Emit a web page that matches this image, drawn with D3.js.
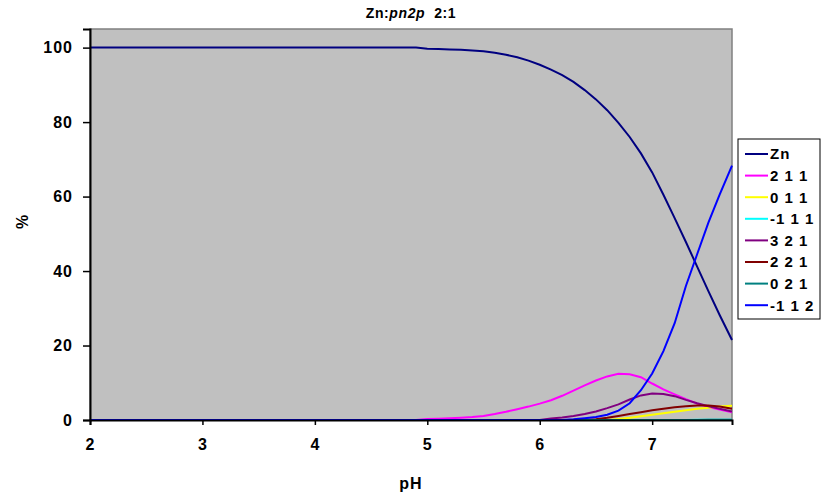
<!DOCTYPE html>
<html>
<head>
<meta charset="utf-8">
<script src="https://cdn.jsdelivr.net/npm/d3@7"></script>
<style>
    body { margin: 0; background: #fff; }
    svg { display: block; font-family: Arial, 'Liberation Sans', sans-serif; }
</style>
</head>
<body>
<div class="d3-canvas"></div>
<script>
const WIDTH = 826;
const HEIGHT = 496;

// pH grid and species distribution (%).
const pH = [2, 2.5, 3, 3.5, 4, 4.5, 4.9, 5.0, 5.1, 5.2, 5.3, 5.4, 5.5, 5.6, 5.7, 5.8, 5.9,
    6.0, 6.1, 6.2, 6.3, 6.4, 6.5, 6.6, 6.7, 6.8, 6.9, 7.0, 7.1, 7.2, 7.3, 7.4, 7.5, 7.6, 7.71];

const zn = [100, 100, 100, 100, 100, 100, 100, 99.7, 99.6, 99.5, 99.4, 99.2, 99.0, 98.6, 98.1, 97.4, 96.5,
    95.4, 94.1, 92.6, 90.8, 88.6, 86.1, 83.2, 79.8, 76.0, 71.6, 66.5, 60.5, 54.2, 47.8, 41.2, 34.6, 28.2, 21.5];
const s211 = [0, 0, 0, 0, 0, 0, 0, 0.3, 0.35, 0.45, 0.6, 0.8, 1.1, 1.6, 2.2, 2.9, 3.6,
    4.4, 5.3, 6.5, 7.9, 9.3, 10.6, 11.7, 12.4, 12.3, 11.5, 9.8, 8.2, 6.9, 5.6, 4.4, 3.5, 2.8, 2.1];
const s011 = [0, 0, 0, 0, 0, 0, 0, 0, 0, 0, 0, 0, 0, 0, 0, 0, 0,
    0, 0, 0, 0, 0, 0, 0, 0.3, 0.6, 1.0, 1.4, 1.8, 2.2, 2.6, 3.0, 3.3, 3.6, 3.8];
const sm111 = [0, 0, 0, 0, 0, 0, 0, 0, 0, 0, 0, 0, 0, 0, 0, 0, 0,
    0, 0, 0, 0, 0, 0, 0, 0, 0, 0, 0, 0, 0, 0, 0.05, 0.05, 0.1, 0.1];
const s321 = [0, 0, 0, 0, 0, 0, 0, 0, 0, 0, 0, 0, 0, 0, 0, 0, 0,
    0, 0.4, 0.7, 1.1, 1.6, 2.3, 3.2, 4.2, 5.5, 6.6, 7.1, 7.0, 6.4, 5.4, 4.5, 3.7, 3.0, 2.3];
const s221 = [0, 0, 0, 0, 0, 0, 0, 0, 0, 0, 0, 0, 0, 0, 0, 0, 0,
    0, 0, 0, 0, 0, 0.2, 0.6, 1.1, 1.6, 2.1, 2.6, 3.0, 3.4, 3.7, 3.9, 3.9, 3.6, 3.0];
const s021 = [0, 0, 0, 0, 0, 0, 0, 0, 0, 0, 0, 0, 0, 0, 0, 0, 0,
    0, 0, 0, 0, 0, 0, 0, 0, 0, 0, 0, 0, 0, 0, 0, 0.05, 0.1, 0.1];
const sm112 = [0, 0, 0, 0, 0, 0, 0, 0, 0, 0, 0, 0, 0, 0, 0, 0, 0,
    0, 0, 0, 0.2, 0.5, 0.8, 1.4, 2.5, 4.5, 8.0, 12.5, 18.5, 26.0, 36.0, 44.5, 53.0, 60.5, 68.3];

const seriesNames = ['Zn', '2 1 1', '0 1 1', '-1 1 1', '3 2 1', '2 2 1', '0 2 1', '-1 1 2'];
const seriesValues = [zn, s211, s011, sm111, s321, s221, s021, sm112];
const seriesColors = ['#000080', '#FF00FF', '#FFFF00', '#00FFFF', '#800080', '#800000', '#008080', '#0000FF'];

const xTicks = [2, 3, 4, 5, 6, 7];
const yTicks = [0, 20, 40, 60, 80, 100];

const margin = {top: 29, right: 94, bottom: 76, left: 90};
const chartWidth = WIDTH - margin.left - margin.right;
const chartHeight = HEIGHT - margin.top - margin.bottom;

const svg = d3.select('.d3-canvas')
    .append('svg')
        .attr('width', WIDTH)
        .attr('height', HEIGHT);

const chart = svg.append('g')
    .attr('transform', `translate(${margin.left}, ${margin.top})`);

const x = d3.scaleLinear()
    .domain([2, 7.71])
    .range([0, chartWidth]);
const y = d3.scaleLinear()
    .domain([0, 105])
    .range([chartHeight, 0]);

// Grey plot area with a thin border.
chart.append('rect')
    .attr('width', chartWidth)
    .attr('height', chartHeight)
    .attr('fill', '#C0C0C0')
    .attr('stroke', '#808080')
    .attr('stroke-width', 1.5);

// Curves.
const line = d3.line()
    .x((d, i) => x(pH[i]))
    .y(d => y(d));

chart.selectAll('path.curve')
    .data(seriesValues)
    .enter()
    .append('path')
        .attr('class', 'curve')
        .attr('fill', 'none')
        .attr('stroke', (d, i) => seriesColors[i])
        .attr('stroke-width', 2)
        .attr('d', line);

// Axes.
const xAxis = d3.axisBottom(x)
    .tickValues(xTicks)
    .tickSize(5)
    .tickPadding(14)
    .tickFormat(d3.format('d'));
const yAxis = d3.axisLeft(y)
    .tickValues(yTicks)
    .tickSize(7)
    .tickPadding(10);

const xAxisGroup = chart.append('g')
    .attr('transform', `translate(0, ${chartHeight})`)
    .call(xAxis);
const yAxisGroup = chart.append('g')
    .call(yAxis);

[xAxisGroup, yAxisGroup].forEach(g => {
    g.attr('font-size', null).attr('font-family', null);
    g.select('.domain').attr('stroke', '#000').attr('stroke-width', 2);
    g.selectAll('.tick line').attr('stroke', '#000').attr('stroke-width', 1.5);
    g.selectAll('.tick text')
        .attr('fill', '#000')
        .attr('font-size', 16)
        .attr('font-weight', 'bold')
        .attr('letter-spacing', 1);
});

// Title with italic ligand name.
const title = svg.append('text')
    .attr('x', margin.left + chartWidth / 2)
    .attr('y', 18)
    .attr('text-anchor', 'middle')
    .attr('font-size', 14)
    .attr('font-weight', 'bold')
    .attr('letter-spacing', 0.6);
title.append('tspan').text('Zn:');
title.append('tspan').attr('font-style', 'italic').text('pn2p');
title.append('tspan').text('\u00a0\u00a02:1');

// Axis titles.
svg.append('text')
    .attr('x', margin.left + chartWidth / 2)
    .attr('y', 489)
    .attr('text-anchor', 'middle')
    .attr('font-size', 16)
    .attr('font-weight', 'bold')
    .attr('letter-spacing', 1)
    .text('pH');

svg.append('text')
    .attr('transform', `translate(28, 222) rotate(-90)`)
    .attr('text-anchor', 'middle')
    .attr('font-size', 16)
    .attr('font-weight', 'bold')
    .text('%');

// Legend.
const legend = svg.append('g')
    .attr('transform', 'translate(738, 139)');

legend.append('rect')
    .attr('width', 82)
    .attr('height', 180)
    .attr('fill', '#fff')
    .attr('stroke', '#000')
    .attr('stroke-width', 1);

const items = legend.selectAll('g.item')
    .data(seriesNames)
    .enter()
    .append('g')
        .attr('class', 'item')
        .attr('transform', (d, i) => `translate(0, ${15 + i * 21.6})`);

items.append('line')
    .attr('x1', 7)
    .attr('x2', 30)
    .attr('stroke', (d, i) => seriesColors[i])
    .attr('stroke-width', 2);

items.append('text')
    .attr('x', 32)
    .attr('dy', '0.36em')
    .attr('font-size', 15)
    .attr('font-weight', 'bold')
    .attr('letter-spacing', 1)
    .text(d => d);
</script>
</body>
</html>
